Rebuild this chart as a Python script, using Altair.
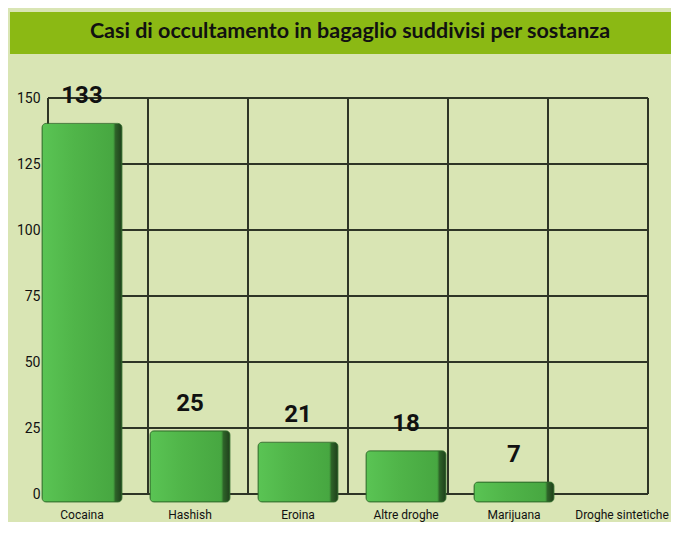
import altair as alt
import pandas as pd

# ---- data ----
categories = ["Cocaina", "Hashish", "Eroina", "Altre droghe", "Marijuana", "Droghe sintetiche"]
values = [133, 25, 21, 18, 7, 0]
y_ticks = [0, 25, 50, 75, 100, 125, 150]
wall_columns = [0, 1, 2, 3, 4, 5, 6]
title_text = ["Casi di occultamento in bagaglio suddivisi per sostanza"]

# ---- style ----
BG = "#d9e5b4"
BANNER = "#8bb914"
GRID = "#2e3526"
NARROW = "Roboto, Liberation Sans, sans-serif"
TITLE_FONT = "Lato, Open Sans, sans-serif"

df = pd.DataFrame({"cat": categories, "v": values})

banner = alt.Chart(pd.DataFrame({"t": title_text})).mark_rect(color=BANNER).encode(
    x=alt.value(-38), x2=alt.value(623), y=alt.value(-86), y2=alt.value(-44)
)
title = alt.Chart(pd.DataFrame({"t": title_text})).mark_text(
    font=TITLE_FONT, fontWeight="bold", fontSize=21.5, color="#111111",
    align="center", baseline="middle"
).encode(x=alt.value(302), y=alt.value(-66), text="t:N")

h_lines = alt.Chart(pd.DataFrame({"g": y_ticks})).mark_rule(
    color=GRID, strokeWidth=2
).encode(
    y=alt.Y("g:Q", scale=alt.Scale(domain=[0, 150]),
            axis=alt.Axis(values=y_ticks, title=None, domain=False, ticks=False, grid=False,
                          labelPadding=8, labelFont=NARROW, labelFontSize=14,
                          labelColor="#111111"))
)
v_lines = alt.Chart(pd.DataFrame({"c": wall_columns})).mark_rule(
    color=GRID, strokeWidth=2
).encode(x=alt.X("c:Q", scale=alt.Scale(domain=[0, 6]), axis=None))

front_x = alt.X(
    "cat:N", sort=categories,
    scale=alt.Scale(domain=categories, range=[-20, 628], paddingInner=0.26, paddingOuter=0.13),
    axis=alt.Axis(title=None, domain=False, ticks=False, labelPadding=15, labelAngle=0,
                  labelFont=NARROW, labelFontSize=12, labelColor="#111111"),
)
front_y = alt.Y("v:Q", scale=alt.Scale(domain=[0, 150], range=[404, -23]), axis=None)

grad = alt.Gradient(
    gradient="linear", x1=0, x2=1, y1=0, y2=0,
    stops=[
        alt.GradientStop(color="#5ac454", offset=0),
        alt.GradientStop(color="#50b549", offset=0.4),
        alt.GradientStop(color="#47a741", offset=0.89),
        alt.GradientStop(color="#2d6228", offset=0.92),
        alt.GradientStop(color="#1f3f1b", offset=1),
    ],
)

base = alt.Chart(df).transform_filter("datum.v > 0")
bars = base.mark_bar(fill=grad, cornerRadius=4, stroke="#2f6a2a", strokeWidth=0.8).encode(
    x=front_x, y=front_y
)
labels = base.mark_text(
    font=NARROW, fontWeight="bold", fontSize=24, color="#111111",
    dy=-27, baseline="middle"
).encode(x=front_x, y=front_y, text="v:Q")

front = alt.layer(bars, labels)

chart = alt.layer(banner, title, h_lines, v_lines, front).resolve_scale(
    x="independent", y="independent"
).properties(
    width=600, height=396,
    autosize=alt.AutoSizeParams(type="none"),
    padding={"left": 40, "top": 90, "right": 23, "bottom": 28},
    background=BG,
).configure_view(stroke=None)

chart.save("out.html", embed_options={"renderer": "svg", "actions": False})
